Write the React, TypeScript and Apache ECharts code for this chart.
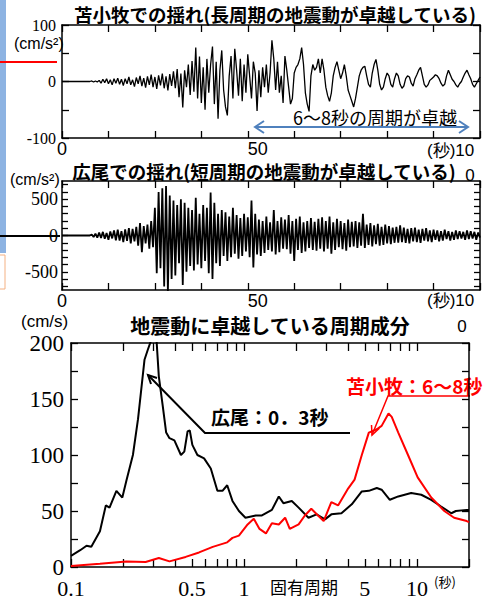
import React, { useEffect, useRef } from "react";
import * as echarts from "echarts";

// ---- data ----
const sampleStep = 0.5; // seconds between samples
const timeTicks = [0, 50];

// 苫小牧 acceleration (cm/s^2), every 0.5 s from 0 s
const tomakomaiAccel = [
  0, 0, 0, 0, 0, 0, 0, 0, 0, 0, 0, 0, 0, 0, 0, 0, 1, -1, 1, -1,
  2, -3, 4, -2, 5, -4, 3, -6, 5, -3, 6, -5, 4, -7, 5, -4, 8, -6, 3, -9,
  7, -4, 10, -8, 6, -11, 9, -6, 12, -10, 8, -13, 11, -7, 14, -12, 9, -16, 13, -8,
  18, -12, 22, -28, 14, -46, 20, -10, 30, -24, 36, -18, 60, -30, 44, -38, 25, -50, 40, -20,
  30, 62, -40, 35, -66, 20, 55, -15, -45, -60, 10, 45, -30, 58, 20, -25, 40, -35, 30, -20,
  48, 10, -30, 35, 15, -52, 20, -28, 25, -10, 30, -20, 15, 73, 40, -15, 35, -20, 10, -38,
  45, 20, -10, -40, -30, 15, 25, 30, 40, 60, 30, -20, -40, -53, 10, 30, 20, 25, 40, 15,
  40, 20, -10, -25, -35, -20, 10, 25, 35, 20, 5, 15, 30, 10, -15, -25, -35, -45, -30, -10,
  10, 20, 25, 27, 10, -5, -10, 15, 30, 39, 20, -5, -15, -10, 5, 15, 10, -5, -10, 5,
  15, 10, -5, -12, -8, 5, 10, 8, -3, -8, 5, 12, 20, 25, 10, -5, -10, -6, 2, 5,
  8, 12, 10, 5, -3, -8, -5, 10, 20, 12, 4, 0, -6, -10, -4, 0, 8, 15, 20, 12,
  5, -5, -10, -4, 2, 8,
];

// 広尾 acceleration (cm/s^2), every 0.5 s from 0 s
const hirooAccel = [
  0, 0, 0, 0, 0, 0, 0, 0, 0, 0, 0, 0, 0, 0, 0, 0, 15, -20, 25, -30,
  40, -35, 50, -45, 35, -60, 55, -40, 70, -65, 80, -70, 60, -90, 85, -75, 100, -110, 90, -80,
  120, -140, 170, -230, 130, -110, 150, -180, 200, -160, 380, -520, 600, -450, 650, -700, 680, -775, 550, -600,
  480, -550, 420, -380, 500, -680, 450, -500, 380, -420, 350, -480, 520, -400, 300, -450, 420, -350, 380, -520,
  590, -600, 450, -380, 300, -420, 350, -280, 320, -350, 260, -300, 380, -250, 280, -320, 240, -280, 300, -220,
  250, -300, 480, -440, 300, -260, 220, -280, 200, -240, 260, -200, 180, -220, 350, -260, 200, -230, 250, -180,
  220, -190, 280, -250, 200, -350, 230, -200, 260, -240, 180, -220, 200, -170, 240, -200, 190, -210, 230, -180,
  250, -220, 200, -180, 260, -250, 180, -200, 230, -160, 200, -190, 170, -210, 220, -160, 190, -150, 200, -170,
  180, -140, 300, -170, 150, -130, 170, -150, 140, -120, 160, -140, 120, -130, 150, -110, 130, -120, 110, -100,
  120, -100, 140, -90, 110, -100, 90, -110, 100, -80, 110, -90, 80, -100, 90, -70, 100, -80, 70, -90,
  80, -60, 70, -80, 60, -70, 80, -50, 60, -70, 50, -60, 70, -50, 60, -40, 50, -60, 70, -50,
  60, -40, 50, -60, 40, -30,
];

// response spectra (cm/s) vs natural period (s)
const hirooPeriod = [0.1, 0.113, 0.123, 0.131, 0.147, 0.159, 0.167, 0.183, 0.198, 0.209, 0.228, 0.244, 0.266, 0.278, 0.29, 0.3, 0.31, 0.322, 0.339, 0.355, 0.371, 0.396, 0.432, 0.452, 0.472, 0.486, 0.503, 0.538, 0.588, 0.643, 0.702, 0.751, 0.8, 0.858, 0.935, 1.02, 1.17, 1.27, 1.45, 1.59, 1.69, 1.89, 2.07, 2.36, 2.63, 2.94, 3.2, 3.66, 4.2, 4.8, 5.27, 5.86, 6.25, 6.97, 7.8, 9.26, 10.6, 12.1, 13.8, 15.8, 16.8, 19.4, 20];
const hirooSpectrum = [10, 15, 19, 18, 32, 55, 53, 68, 62, 77, 100, 132, 185, 194, 202, 215, 210, 170, 144, 120, 115, 113, 100, 103, 121, 122, 109, 100, 97, 88, 68, 68, 73, 59, 50, 44, 46, 46, 51, 63, 57, 59, 53, 44, 47, 42.5, 47, 48, 56, 67.5, 68, 70.5, 69, 60, 63, 66, 64.5, 60, 54, 48, 50, 51, 51];
const tomakomaiPeriod = [0.1, 0.147, 0.209, 0.27, 0.322, 0.371, 0.46, 0.55, 0.66, 0.8, 0.858, 0.935, 1.05, 1.14, 1.23, 1.34, 1.45, 1.59, 1.73, 1.84, 2.07, 2.25, 2.45, 2.68, 2.89, 3.2, 3.5, 4.0, 4.36, 4.8, 5.27, 5.86, 6.25, 6.85, 7.15, 7.8, 8.88, 10.1, 12.1, 14.4, 16.4, 19.4, 20];
const tomakomaiSpectrum = [1, 3, 5, 4.5, 8, 5, 9, 13, 18, 22, 26, 28, 38, 43, 34, 30, 39, 38, 44, 34, 38, 46, 52, 46, 41, 58, 55, 70, 78, 100, 120, 123, 126, 137, 134, 120, 100, 80, 62, 50, 44, 41, 40];

const periodLabels = [0.1, 0.5, 1, 5, 10];
const periodTicks = [0.1, 0.2, 0.3, 0.4, 0.5, 0.6, 0.7, 0.8, 0.9, 1, 2, 3, 4, 5, 6, 7, 8, 9, 10, 20];
const hirooTicks = [-700, -600, -500, -400, -300, -200, -100, 0, 100, 200, 300, 400, 500, 600, 700];
const hirooLabels = [-500, 0, 500];

const SERIF = "'Liberation Serif', 'DejaVu Serif', serif";
const SANS = "'Liberation Sans', Arial, sans-serif";
const JP = "'Noto Sans CJK JP', 'Noto Sans', sans-serif";

function buildOption() {
  const axisLine = { show: true, onZero: false, lineStyle: { color: "#000", width: 1.5 } };
  const tick = (len: number) => ({ show: true, inside: true, length: len, lineStyle: { color: "#000", width: 1.3 } });

  const timeAxis = (gridIndex: number, pos: "top" | "bottom") => ({
    type: "value",
    gridIndex,
    position: pos,
    min: 0,
    max: 112.5,
    interval: 12.5,
    axisLine,
    axisTick: tick(7),
    splitLine: { show: false },
    axisLabel:
      pos === "bottom"
        ? {
            show: true,
            margin: 2,
            color: "#000",
            fontFamily: SANS,
            fontSize: 18,
            formatter: (v: number) => (timeTicks.indexOf(v) < 0 ? "" : v === 50 ? "{s|50}" : String(v)),
            rich: { s: { fontFamily: SANS, fontSize: 18, color: "#000", padding: [0, 0, 0, 20] } },
          }
        : { show: false },
  });

  const periodAxis = (pos: "top" | "bottom") => ({
    type: "log",
    gridIndex: 2,
    position: pos,
    logBase: 10,
    min: 0.1,
    max: 20,
    axisLine,
    splitLine: { show: false },
    minorTick: { show: false },
    axisTick: { ...tick(8), customValues: periodTicks },
    axisLabel:
      pos === "bottom"
        ? {
            show: true,
            customValues: periodLabels,
            margin: 10,
            color: "#000",
            fontFamily: SERIF,
            fontSize: 22,
            formatter: (v: number) => String(+v.toPrecision(3)),
          }
        : { show: false },
  });

  const valAxis = (gridIndex: number, pos: "left" | "right", min: number, max: number, interval: number, labels: number[], fontSize: number, margin: number) => ({
    type: "value",
    gridIndex,
    position: pos,
    min,
    max,
    interval,
    axisLine,
    axisTick: tick(7),
    splitLine: { show: false },
    axisLabel:
      pos === "left"
        ? {
            show: true,
            margin,
            color: "#000",
            fontFamily: SERIF,
            fontSize,
            formatter: (v: number) => (labels.indexOf(v) < 0 ? "" : String(v)),
          }
        : { show: false },
  });

  const hirooAxis = (pos: "left" | "right") => ({
    type: "value",
    gridIndex: 1,
    position: pos,
    min: -750,
    max: 750,
    axisLine,
    splitLine: { show: false },
    axisTick: { ...tick(6), customValues: hirooTicks },
    axisLabel:
      pos === "left"
        ? { show: true, customValues: hirooLabels, margin: 4, color: "#000", fontFamily: SERIF, fontSize: 18 }
        : { show: false },
  });

  const text = (t: string, x: number, y: number, size: number, opts: any = {}) => ({
    type: "text",
    x,
    y,
    silent: true,
    style: {
      text: t,
      fill: opts.fill || "#000",
      fontSize: size,
      fontFamily: opts.family || JP,
      fontWeight: opts.weight || "normal",
      align: opts.align || "left",
      textAlign: opts.align || "left",
      verticalAlign: "middle",
      textVerticalAlign: "middle",
    },
  });

  const line = (x1: number, y1: number, x2: number, y2: number, stroke: string, w: number) => ({
    type: "line",
    silent: true,
    shape: { x1, y1, x2, y2 },
    style: { stroke, lineWidth: w },
  });
  const poly = (points: number[][], stroke: string, w: number) => ({
    type: "polyline",
    silent: true,
    shape: { points },
    style: { stroke, lineWidth: w, fill: "none" },
  });

  const blue = "#4f81bd";

  return {
    animation: false,
    backgroundColor: "#fff",
    grid: [
      { left: 62, top: 25, width: 418, height: 113 },
      { left: 62, top: 181, width: 418, height: 109 },
      { left: 71, top: 343, width: 398, height: 227 },
    ],
    xAxis: [timeAxis(0, "bottom"), timeAxis(0, "top"), timeAxis(1, "bottom"), timeAxis(1, "top"), periodAxis("bottom"), periodAxis("top")],
    yAxis: [
      valAxis(0, "left", -100, 100, 50, [-100, 0, 100], 16, 6),
      valAxis(0, "right", -100, 100, 50, [], 16, 6),
      hirooAxis("left"),
      hirooAxis("right"),
      valAxis(2, "left", 0, 200, 25, [0, 50, 100, 150, 200], 23, 7),
      valAxis(2, "right", 0, 200, 25, [], 23, 7),
    ],
    series: [
      {
        name: "苫小牧",
        type: "line",
        xAxisIndex: 0,
        yAxisIndex: 0,
        showSymbol: false,
        symbol: "none",
        clip: true,
        data: tomakomaiAccel.map((v, i) => [i * sampleStep, v]),
        lineStyle: { color: "#000", width: 1.3 },
      },
      {
        name: "広尾",
        type: "line",
        xAxisIndex: 2,
        yAxisIndex: 2,
        showSymbol: false,
        symbol: "none",
        clip: true,
        data: hirooAccel.map((v, i) => [i * sampleStep, v]),
        lineStyle: { color: "#000", width: 1.8 },
      },
      {
        name: "広尾スペクトル",
        type: "line",
        xAxisIndex: 4,
        yAxisIndex: 4,
        showSymbol: false,
        symbol: "none",
        clip: true,
        data: hirooPeriod.map((p, i) => [p, hirooSpectrum[i]]),
        lineStyle: { color: "#000", width: 2 },
      },
      {
        name: "苫小牧スペクトル",
        type: "line",
        xAxisIndex: 4,
        yAxisIndex: 4,
        showSymbol: false,
        symbol: "none",
        clip: true,
        data: tomakomaiPeriod.map((p, i) => [p, tomakomaiSpectrum[i]]),
        lineStyle: { color: "#ff0000", width: 2 },
      },
    ],
    graphic: [
      // cropped neighbours on the left edge
      { type: "rect", silent: true, shape: { x: 0, y: 0, width: 6, height: 253 }, style: { fill: "#8db3e2" } },
      { type: "rect", silent: true, shape: { x: -2, y: 255, width: 7, height: 34 }, style: { fill: "#fff", stroke: "#f4b183", lineWidth: 1 } },
      line(0, 62, 57, 62, "#ff0000", 2),
      line(0, 236, 60, 236, "#000", 2),
      // titles
      text("苫小牧での揺れ(長周期の地震動が卓越している)", 275, 14, 18.5, { weight: "bold", align: "center" }),
      text("広尾での揺れ(短周期の地震動が卓越している)", 264, 171, 18.5, { weight: "bold", align: "center" }),
      text("地震動に卓越している周期成分", 270, 325, 20, { weight: "bold", align: "center" }),
      // unit labels
      text("(cm/s²)", 14, 43, 16, { family: SANS }),
      text("(cm/s²)", 10, 179, 16, { family: SANS }),
      text("(cm/s)", 21, 321, 17, { family: SANS }),
      text("(秒)10", 427, 150, 17, { family: SANS }),
      text("0", 470, 175, 17, { family: SANS, align: "center" }),
      text("(秒)10", 427, 300, 17, { family: SANS }),
      text("0", 462, 326, 17, { family: SANS, align: "center" }),
      text("固有周期", 304, 586, 17, { align: "center" }),
      text("(秒)", 445, 581, 13, { align: "center" }),
      // blue annotation in top chart
      text("6〜8秒の周期が卓越", 293, 117, 18),
      line(256, 127, 467, 127, blue, 2),
      poly([[264, 121], [255, 127], [264, 133]], blue, 2),
      poly([[459, 121], [468, 127], [459, 133]], blue, 2),
      // spectrum annotations
      text("広尾：0．3秒", 211, 416, 19, { weight: "bold" }),
      poly([[350, 433], [205, 433], [148, 375]], "#000", 2),
      poly([[151, 384], [148, 375], [157, 378]], "#000", 2),
      text("苫小牧：6〜8秒", 346, 385, 19, { weight: "bold", fill: "#ff0000" }),
      poly([[470, 396], [388, 396], [372, 435]], "#ff0000", 1.5),
      poly([[371.5, 425], [372, 435], [379.4, 428.2]], "#ff0000", 1.5),
    ],
  };
}

export default function App() {
  const ref = useRef<HTMLDivElement>(null);
  useEffect(() => {
    if (!ref.current) return;
    const chart = echarts.init(ref.current, null, { renderer: "svg" });
    chart.setOption(buildOption() as any);
    return () => chart.dispose();
  }, []);
  return (
    <div
      ref={ref}
      style={{ position: "fixed", left: 0, top: 0, width: 485, height: 599, background: "#fff" }}
    />
  );
}
